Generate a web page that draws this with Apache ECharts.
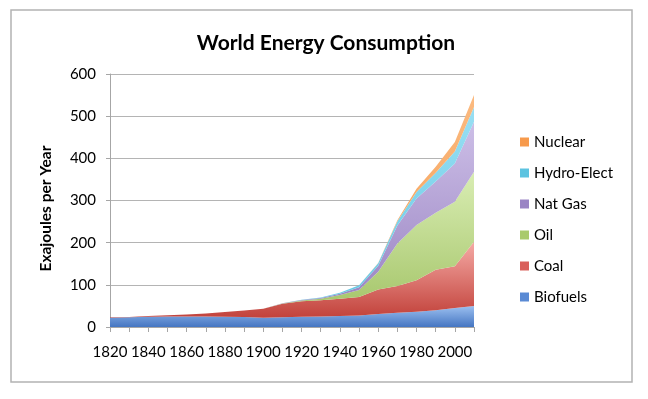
<!DOCTYPE html>
<html>
<head>
<meta charset="utf-8">
<title>World Energy Consumption</title>
<script src="https://cdn.jsdelivr.net/npm/echarts@6/dist/echarts.min.js"></script>
<style>
    html, body {margin: 0; padding: 0; background: #fff;}
    #chartId {width: 648px; height: 399px;}
</style>
</head>
<body>
<div id="chartId"></div>
<script>
// years, one point every 10 years
var years = ['1820', '1830', '1840', '1850', '1860', '1870', '1880', '1890', '1900', '1910',
    '1920', '1930', '1940', '1950', '1960', '1970', '1980', '1990', '2000', '2010'];

// Exajoules per year
var biofuels = [22, 23, 24.5, 25, 25, 25, 24.5, 24, 22, 23, 24.5, 25, 26, 27, 31, 34, 36, 40, 45, 50];
var coal = [1, 1, 1.5, 3, 4.5, 7, 11, 15, 21, 32, 36.5, 38.5, 41, 44, 58, 63, 75, 96, 99, 152];
var oil = [0, 0, 0, 0, 0, 0, 0, 0, 0, 1, 2, 3.5, 9, 17, 42, 101, 131, 135, 153, 166];
var natGas = [0, 0, 0, 0, 0, 0, 0, 0, 0, 0.5, 1, 2, 3, 6, 14, 43, 63, 74, 91, 119];
var hydro = [0, 0, 0, 0, 0, 0, 0, 0, 0, 0, 0.5, 1, 2, 5, 6, 10, 15, 21, 28, 35];
var nuclear = [0, 0, 0, 0, 0, 0, 0, 0, 0, 0, 0, 0, 0, 0, 1, 2, 8, 14, 23, 28];

var yTicks = [0, 100, 200, 300, 400, 500, 600];

var fontName = 'Lato';

function grad(top, bottom) {
    return {
        type: 'linear', x: 0, y: 0, x2: 0, y2: 1,
        colorStops: [{offset: 0, color: top}, {offset: 1, color: bottom}]
    };
}

function areaSeries(name, data, color, top, bottom) {
    return {
        name: name,
        type: 'line',
        stack: 'total',
        data: data,
        showSymbol: false,
        symbol: 'none',
        lineStyle: {width: 0},
        itemStyle: {color: color},
        areaStyle: {color: grad(top, bottom), opacity: 1},
        emphasis: {disabled: true}
    };
}

var chart = echarts.init(document.getElementById('chartId'));

option = {
    animation: false,
    textStyle: {fontFamily: fontName},
    title: {
        text: 'World Energy Consumption',
        left: 321,
        textAlign: 'center',
        top: 28,
        textStyle: {fontSize: 21, fontWeight: 'bold', color: '#000', fontFamily: fontName}
    },
    legend: {
        orient: 'vertical',
        left: 515,
        top: 128,
        icon: 'rect',
        itemWidth: 9,
        itemHeight: 9,
        itemGap: 13,
        textStyle: {fontSize: 15, color: '#000', lineHeight: 18, fontFamily: fontName},
        data: ['Nuclear', 'Hydro-Elect', 'Nat Gas', 'Oil', 'Coal', 'Biofuels']
    },
    grid: {
        left: 110,
        right: 174,
        top: 74,
        bottom: 72,
        containLabel: false
    },
    graphic: [{
        type: 'rect',
        shape: {x: 11, y: 10, width: 621, height: 372},
        style: {fill: 'none', stroke: '#b3b3b3', lineWidth: 1.5},
        silent: true
    }],
    xAxis: {
        type: 'category',
        data: years,
        boundaryGap: false,
        axisLine: {lineStyle: {color: '#a6a6a6', width: 1}},
        axisTick: {show: true, interval: 0, length: 5, lineStyle: {color: '#a6a6a6'}},
        axisLabel: {interval: 1, margin: 18, fontSize: 15, color: '#000', fontFamily: fontName},
        splitLine: {show: false}
    },
    yAxis: {
        type: 'value',
        min: yTicks[0],
        max: yTicks[yTicks.length - 1],
        interval: 100,
        name: 'Exajoules per Year',
        nameLocation: 'middle',
        nameGap: 56,
        nameTextStyle: {fontSize: 15.5, fontWeight: 'bold', color: '#000', fontFamily: fontName, padding: [0, 16, 0, 0]},
        axisLine: {show: true, lineStyle: {color: '#a6a6a6', width: 1}},
        axisTick: {show: true, length: 4, lineStyle: {color: '#a6a6a6'}},
        axisLabel: {margin: 14, fontSize: 15, color: '#000', fontFamily: fontName},
        splitLine: {show: true, lineStyle: {color: '#b4b4b4', width: 1}}
    },
    series: [
        areaSeries('Biofuels', biofuels, '#5a8ad4', '#9cc0f0', '#4576c2'),
        areaSeries('Coal', coal, '#d9605b', '#f5aaa5', '#c2423b'),
        areaSeries('Oil', oil, '#a9ca6c', '#d9edb3', '#a2c366'),
        areaSeries('Nat Gas', natGas, '#9a84c4', '#cdbfe7', '#957fbf'),
        areaSeries('Hydro-Elect', hydro, '#5cc3e0', '#99dff3', '#62c6e2'),
        areaSeries('Nuclear', nuclear, '#f79a4c', '#fbba80', '#f39a4e')
    ]
};

chart.setOption(option);
</script>
</body>
</html>
